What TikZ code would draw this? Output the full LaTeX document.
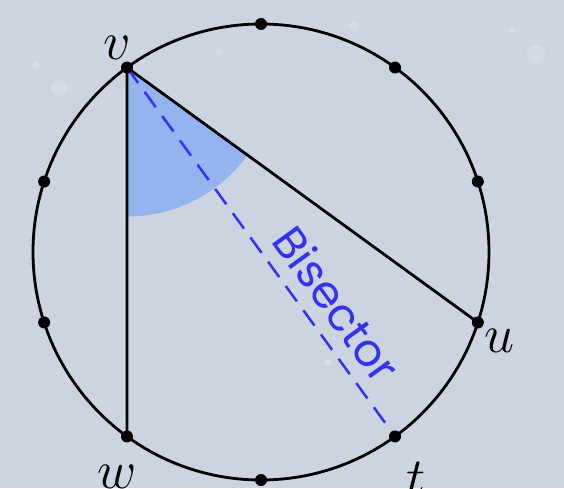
\RequirePackage{fix-cm}
\documentclass[tikz,border=0pt]{standalone}
\usepackage{fontspec}
\newfontfamily\bisfont{Poppins}
\usetikzlibrary{calc}
\definecolor{bg}{RGB}{204,212,226}
\definecolor{wedgecol}{RGB}{148,180,240}
\definecolor{biscol}{RGB}{50,50,240}
\begin{document}
\begin{tikzpicture}[x=1pt,y=1pt,
  edge/.style={line width=2.8pt, line cap=round, line join=round},
  dotnode/.style={circle, fill=black, inner sep=0pt, minimum size=12pt},
  lab/.style={font=\fontsize{54}{60}\selectfont, inner sep=0pt},
  bisline/.style={biscol, line width=2.5pt, dash pattern=on 19pt off 11pt},
  speck/.style={white, opacity=0.18}]
\fill[bg] (0,0) rectangle (564,488);
\useasboundingbox (0,0) rectangle (564,488);
% faint specks of the background
\fill[speck] (59,400) circle[radius=8];
\fill[speck] (36,423) circle[radius=4];
\fill[speck] (219,436) circle[radius=4];
\fill[speck] (354,462) circle[radius=5];
\fill[speck] (536,434) circle[radius=9];
\fill[speck] (512,457) circle[radius=3];
\fill[speck] (328,125) circle[radius=4];
\coordinate (O) at (261,236);
\foreach \i in {0,...,9} \coordinate (p\i) at ($(O)+({90-36*\i}:228)$);
% p3 = u, p4 = t, p6 = w, p9 = v
\fill[wedgecol] (p9) -- ++(-90:149) arc[start angle=-90, end angle=-36, radius=149] -- cycle;
\draw[edge] (p6) -- (p9) -- (p3);
\draw[bisline] (p9) -- (p4);
\draw[line width=2.8pt] (O) circle[radius=228];
\foreach \i in {0,...,9} \node[dotnode] (d\i) at (p\i) {};
\node[lab] (lv) at (117,440) {$v$};
\node[lab] (lu) at (500,147) {$u$};
\node[lab] (lt) at (416,9.5) {$t$};
\node[lab] (lw) at (117,11) {$w$};
\coordinate (m) at ($(p9)!0.69!(p4)$);
\node[biscol, font=\bisfont\fontsize{45}{50}\selectfont, rotate=-54, anchor=base, inner sep=0pt] (bl) at ($(m)!14pt!90:(p4)$) {Bisector};
\end{tikzpicture}
\end{document}
